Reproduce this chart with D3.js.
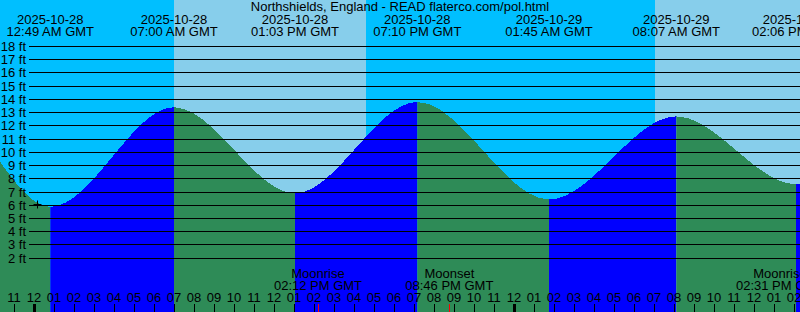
<!DOCTYPE html>
<html>
<head>
<meta charset="utf-8">
<script src="https://cdn.jsdelivr.net/npm/d3@7"></script>
<style>
  body { margin: 0; background: #fff; }
  svg { display: block; font-family: "Liberation Sans", Arial, sans-serif; font-size: 13px; }
</style>
</head>
<body>
<svg id="chart"></svg>
<script>
// tide extremes (GMT), first two and last are just off screen
const tideTimes = ['2025-10-27T12:40Z', '2025-10-27T19:15Z', '2025-10-28T00:49Z', '2025-10-28T07:00Z', '2025-10-28T13:03Z',
    '2025-10-28T19:10Z', '2025-10-29T01:45Z', '2025-10-29T08:07Z', '2025-10-29T14:06Z', '2025-10-29T20:25Z']
const tideFeet = [7.0, 13.8, 5.84, 13.37, 6.86, 13.77, 6.4, 12.68, 7.55, 13.0]

const sunTimes = ['2025-10-28T07:00Z', '2025-10-28T16:36Z', '2025-10-29T07:03Z']
const sunKinds = ['rise', 'set', 'rise']

const moonTimes = ['2025-10-28T14:12Z', '2025-10-28T20:46Z', '2025-10-29T14:31Z']
const moonLabels = ['Moonrise', 'Moonset', 'Moonrise']

const feetTicks = [2, 3, 4, 5, 6, 7, 8, 9, 10, 11, 12, 13, 14, 15, 16, 17, 18]

const nowTime = '2025-10-28T00:10Z'
const nowFeet = 6.07

const width = 800
const height = 312

const svg = d3.select('#chart').attr('width', width).attr('height', height)

const x = d3.scaleUtc()
    .domain([new Date('2025-10-27T22:18Z'), new Date('2025-10-29T14:18Z')])
    .range([0, width])
const y = d3.scaleLinear().domain([0, 18]).range([284.1, 46])

const tides = tideTimes.map((t, i) => ({ t: new Date(t), v: tideFeet[i] }))

// sky: night / day bands
const d0 = x.domain()[0], d1 = x.domain()[1]
const sunEdges = [d0].concat(sunTimes.map(t => new Date(t)), [d1])
const sky = svg.append('g')
for (let i = 0; i < sunEdges.length - 1; i++) {
    // before a sunrise it is night
    const night = i < sunKinds.length ? sunKinds[i] === 'rise' : sunKinds[sunKinds.length - 1] === 'set'
    sky.append('rect')
        .attr('x', x(sunEdges[i]))
        .attr('y', 0)
        .attr('width', x(sunEdges[i + 1]) - x(sunEdges[i]))
        .attr('height', height)
        .attr('fill', night ? '#00bfff' : '#87ceeb')
}

// water area, blue when rising, green when falling
const area = d3.area()
    .x(d => x(d.t))
    .y0(height)
    .y1(d => y(d.v))
    .curve(d3.curveMonotoneX)

const defs = svg.append('defs')
for (let i = 0; i < tides.length - 1; i++) {
    const a = tides[i], b = tides[i + 1]
    const rising = b.v > a.v
    defs.append('clipPath').attr('id', 'seg' + i)
        .append('rect')
        .attr('x', x(a.t))
        .attr('y', 0)
        .attr('width', x(b.t) - x(a.t))
        .attr('height', height)
    svg.append('path')
        .datum(tides)
        .attr('d', area)
        .attr('clip-path', 'url(#seg' + i + ')')
        .attr('fill', rising ? '#0000ff' : '#2e8b57')
        .attr('shape-rendering', 'crispEdges')
}

// feet grid
svg.append('g')
    .selectAll('line')
    .data(feetTicks)
    .join('line')
    .attr('x1', 29)
    .attr('x2', width)
    .attr('y1', d => Math.round(y(d)) + 0.5)
    .attr('y2', d => Math.round(y(d)) + 0.5)
    .attr('stroke', '#000')
    .attr('stroke-width', 1)

svg.append('g')
    .selectAll('text')
    .data(feetTicks)
    .join('text')
    .attr('x', 26)
    .attr('y', d => Math.round(y(d)) + 5)
    .attr('text-anchor', 'end')
    .text(d => d + ' ft')

// current time marker
const nx = Math.round(x(new Date(nowTime))) + 0.5
const ny = Math.round(y(nowFeet)) + 0.5
svg.append('path')
    .attr('d', `M${nx - 4},${ny}H${nx + 4}M${nx},${ny - 4}V${ny + 4}`)
    .attr('stroke', '#000')

// title
svg.append('text')
    .attr('x', width / 2)
    .attr('y', 11)
    .attr('text-anchor', 'middle')
    .text('Northshields, England - READ flaterco.com/pol.html')

// tide event labels
const fmtDate = d3.utcFormat('%Y-%m-%d')
const fmtTime = d3.utcFormat('%I:%M %p GMT')
const shown = tides.filter(d => d.t >= d0 && d.t <= d1)
const tl = svg.append('g').attr('text-anchor', 'middle')
tl.selectAll('.date').data(shown).join('text')
    .attr('x', d => x(d.t)).attr('y', 24).text(d => fmtDate(d.t))
tl.selectAll('.time').data(shown).join('text')
    .attr('x', d => x(d.t)).attr('y', 36).text(d => fmtTime(d.t))

// moon labels (kept a bit inside the right edge)
const moons = moonTimes.map((t, i) => ({ t: new Date(t), label: moonLabels[i] }))
const mx = d => Math.min(x(d.t), width - 20)
const ml = svg.append('g').attr('text-anchor', 'middle')
ml.selectAll('.m1').data(moons).join('text')
    .attr('x', mx).attr('y', 278).text(d => d.label)
ml.selectAll('.m2').data(moons).join('text')
    .attr('x', mx).attr('y', 290).text(d => fmtTime(d.t))

// hour axis
const hours = d3.utcHour.range(d3.utcHour.ceil(d0), d1)
const ax = svg.append('g')
ax.selectAll('text').data(hours).join('text')
    .attr('x', d => x(d))
    .attr('y', 302)
    .attr('text-anchor', 'middle')
    .text(d => d3.utcFormat('%I')(d))
ax.selectAll('line').data(hours).join('line')
    .attr('x1', d => Math.round(x(d)) + 0.5)
    .attr('x2', d => Math.round(x(d)) + 0.5)
    .attr('y1', 304)
    .attr('y2', height)
    .attr('stroke', '#000')
    .attr('stroke-width', d => d.getUTCHours() === 0 ? 3 : 1)

svg.append('g').selectAll('line').data(moons).join('line')
    .attr('x1', d => Math.round(x(d.t)) + 0.5)
    .attr('x2', d => Math.round(x(d.t)) + 0.5)
    .attr('y1', 304)
    .attr('y2', height)
    .attr('stroke', '#ff0000')
</script>
</body>
</html>
